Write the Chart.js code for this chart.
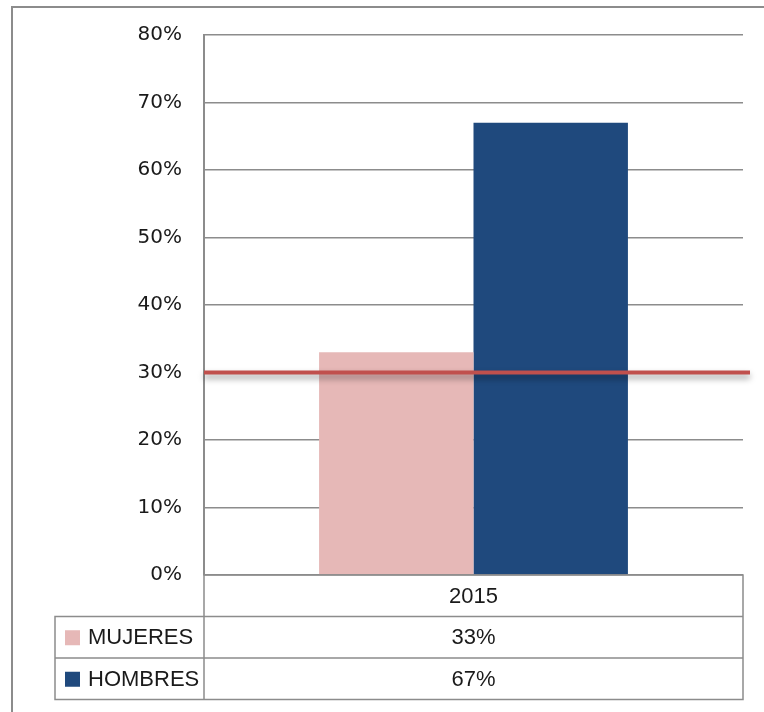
<!DOCTYPE html>
<html>
<head>
<meta charset="utf-8">
<script src="https://cdn.jsdelivr.net/npm/chart.js@4"></script>
<style>
  html, body { margin: 0; padding: 0; background: #fff; }
  #wrap { position: relative; width: 764px; height: 712px; }
</style>
</head>
<body>
<div id="wrap"><canvas id="myChart" width="764" height="712"></canvas></div>
<script>
const categories = ["2015"];
const seriesNames = ["MUJERES", "HOMBRES"];
const mujeres = [33];
const hombres = [67];
const targetLine = 30;
const yTicks = [0, 10, 20, 30, 40, 50, 60, 70, 80];

const colors = ["#E6B8B7", "#1F497D"];
const gridColor = "#8c8c8c";

// outer frame of the picture (only top and left edges show)
const framePlugin = {
    id: "frame",
    beforeDraw(chart) {
        const c = chart.ctx;
        c.save();
        c.fillStyle = "#fff";
        c.fillRect(0, 0, chart.width, chart.height);
        c.strokeStyle = "#8c8c8c";
        c.lineWidth = 2;
        c.beginPath();
        c.moveTo(12, chart.height);
        c.lineTo(12, 7);
        c.lineTo(chart.width, 7);
        c.stroke();
        c.restore();
    },
};

// red reference line with a soft shadow
const targetPlugin = {
    id: "target",
    afterDatasetsDraw(chart) {
        const c = chart.ctx;
        const y = chart.scales.y.getPixelForValue(targetLine);
        const a = chart.chartArea;
        c.save();
        c.shadowColor = "rgba(0,0,0,0.4)";
        c.shadowBlur = 6;
        c.shadowOffsetY = 4;
        c.strokeStyle = "#C0504D";
        c.lineWidth = 4;
        c.beginPath();
        c.moveTo(a.left, y);
        c.lineTo(a.right + 7, y);
        c.stroke();
        c.restore();
    },
};

// data table under the plot
const tablePlugin = {
    id: "dataTable",
    afterDraw(chart) {
        const c = chart.ctx;
        const a = chart.chartArea;
        const rowH = 41.5;
        const tableLeft = 55;
        const top = a.bottom;
        const right = a.right;
        c.save();
        c.strokeStyle = gridColor;
        c.lineWidth = 1.5;
        c.beginPath();
        c.moveTo(a.left, top);
        c.lineTo(right, top);
        c.lineTo(right, top + rowH * 3);
        c.lineTo(tableLeft, top + rowH * 3);
        c.lineTo(tableLeft, top + rowH);
        c.lineTo(right, top + rowH);
        c.moveTo(tableLeft, top + rowH * 2);
        c.lineTo(right, top + rowH * 2);
        c.moveTo(a.left, top);
        c.lineTo(a.left, top + rowH * 3);
        c.stroke();

        c.fillStyle = "#1a1a1a";
        c.font = "22px 'Liberation Sans', Arial, sans-serif";
        c.textAlign = "center";
        c.textBaseline = "middle";
        const x = chart.scales.x;
        categories.forEach((cat, i) => {
            c.fillText(cat, x.getPixelForValue(i), top + rowH / 2 + 1);
        });
        const rows = [mujeres, hombres];
        rows.forEach((vals, r) => {
            const cy = top + rowH * (r + 1) + rowH / 2 + 1;
            c.fillStyle = colors[r];
            c.fillRect(65, cy - 8, 15, 15);
            c.fillStyle = "#1a1a1a";
            c.textAlign = "left";
            c.fillText(seriesNames[r], 88, cy);
            c.textAlign = "center";
            vals.forEach((v, i) => {
                c.fillText(v + "%", x.getPixelForValue(i), cy);
            });
        });
        c.restore();
    },
};

new Chart(document.getElementById("myChart"), {
    type: "bar",
    data: {
        labels: categories,
        datasets: [
            { label: seriesNames[0], data: mujeres, backgroundColor: colors[0] },
            { label: seriesNames[1], data: hombres, backgroundColor: colors[1] },
        ],
    },
    options: {
        responsive: false,
        animation: false,
        layout: { padding: { left: 0, right: 21, top: 35, bottom: 137 } },
        datasets: { bar: { categoryPercentage: 0.573, barPercentage: 1 } },
        scales: {
            x: { display: false },
            y: {
                min: 0,
                max: 80,
                afterFit(scale) { scale.width = 204; },
                afterBuildTicks(scale) { scale.ticks = yTicks.map(v => ({ value: v })); },
                ticks: {
                    color: "#1a1a1a",
                    padding: 22,
                    font: { family: "'DejaVu Sans', sans-serif", size: 20 },
                    callback: v => v + "%",
                },
                grid: { color: gridColor, lineWidth: 1.5, drawTicks: false },
                border: { color: gridColor, width: 2 },
            },
        },
        plugins: {
            legend: { display: false },
            tooltip: { enabled: false },
        },
    },
    plugins: [framePlugin, targetPlugin, tablePlugin],
});
</script>
</body>
</html>
